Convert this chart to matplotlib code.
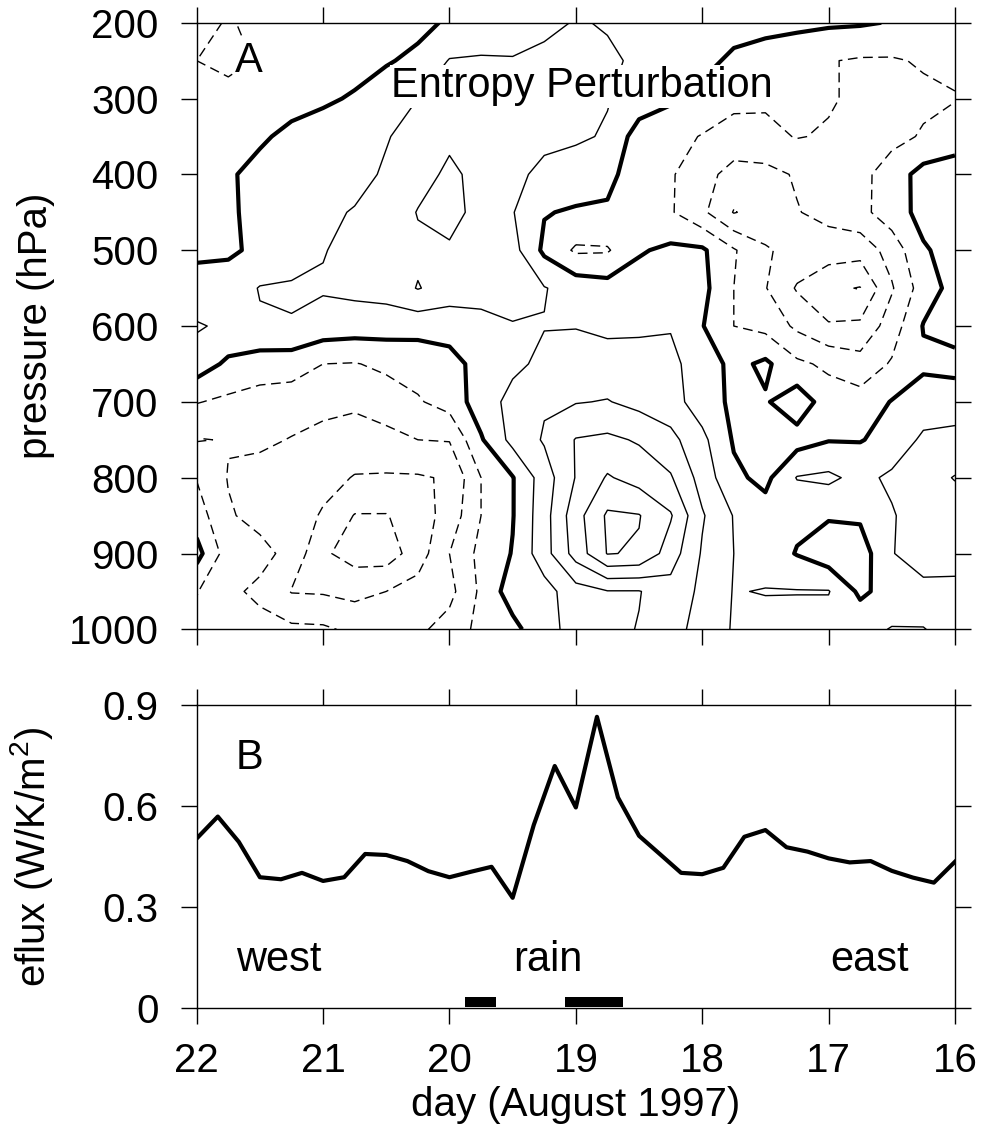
import numpy as np
import matplotlib
matplotlib.use("Agg")
import matplotlib.pyplot as plt

plt.rcParams['font.family'] = ['Liberation Sans', 'DejaVu Sans']
plt.rcParams['mathtext.fontset'] = 'custom'
plt.rcParams['mathtext.rm'] = 'Liberation Sans'
plt.rcParams['mathtext.default'] = 'regular'

# panel A: entropy perturbation on a coarse grid
day_grid = [22.0, 21.75, 21.5, 21.25, 21.0, 20.75, 20.5, 20.25, 20.0, 19.75, 19.5, 19.25,
            19.0, 18.75, 18.5, 18.25, 18.0, 17.75, 17.5, 17.25, 17.0, 16.75, 16.5, 16.25, 16.0]
p_grid = [200, 250, 300, 350, 400, 450, 500, 550, 600, 650, 700, 750, 800, 850, 900, 950, 1000]
entropy = [
    [-0.8, -1.05, -0.85, -0.65, -0.55, -0.45, -0.35, -0.3, 0.15, 0.4, 0.6, 0.8, 1.05, 0.95, 0.7, 0.55, 0.45, 0.4, 0.35, 0.25, 0.15, 0.1, -0.05, -0.3, -0.45],
    [-1.0, -1.3, -0.9, -0.7, -0.5, -0.35, -0.1, 0.25, 1.05, 1.1, 1.05, 1.2, 1.3, 1.1, 0.9, 0.6, 0.3, -0.2, -0.5, -0.7, -0.95, -1.1, -1.1, -0.9, -0.8],
    [-0.6, -0.6, -0.45, -0.3, -0.15, 0.1, 0.6, 1.0, 1.3, 1.4, 1.4, 1.4, 1.3, 1.05, 0.6, 0.15, -0.3, -0.8, -0.85, -0.7, -0.9, -1.2, -1.3, -1.2, -1.05],
    [-0.45, -0.35, -0.12, 0.2, 0.45, 0.7, 0.95, 1.3, 1.8, 1.6, 1.4, 1.2, 1.15, 0.9, -0.5, -0.7, -1.05, -1.3, -1.25, -0.95, -1.1, -1.4, -1.3, -0.9, -0.5],
    [-0.3, -0.1, 0.25, 0.4, 0.55, 0.75, 1.1, 1.6, 2.2, 1.7, 1.2, 0.8, 0.5, 0.2, -0.4, -0.9, -1.6, -2.4, -2.3, -1.9, -1.5, -1.3, -0.5, 0.35, 0.5],
    [-0.25, -0.1, 0.2, 0.55, 0.85, 1.05, 1.3, 2.05, 2.4, 1.6, 1.05, 0.05, -0.1, -0.1, -0.6, -0.9, -1.8, -3.05, -2.6, -2.05, -1.7, -1.3, -0.45, 0.3, 0.5],
    [-0.15, -0.15, 0.2, 0.6, 0.95, 1.3, 1.5, 1.8, 1.85, 1.5, 1.35, -0.2, -1.15, -1.1, -0.1, 0.2, 0.15, -0.9, -1.9, -2.3, -2.5, -2.6, -1.6, -0.1, 0.35],
    [0.3, 0.45, 1.05, 1.1, 1.1, 1.25, 1.4, 2.05, 1.6, 1.5, 1.35, 1.05, 0.6, 0.4, 0.45, 0.5, 0.3, -1.0, -1.95, -3.1, -3.8, -4.05, -2.1, -0.5, 0.35],
    [1.1, 0.8, 0.9, 0.95, 0.6, 0.5, 0.45, 0.35, 0.35, 0.6, 0.95, 0.97, 0.97, 0.8, 0.85, 0.95, 0.05, -1.0, -1.3, -2.2, -2.9, -2.8, -1.5, 0.05, 0.4],
    [0.55, -0.2, -0.5, -0.55, -1.0, -1.05, -0.8, -0.6, -0.3, 0.3, 0.8, 1.2, 1.35, 1.4, 1.35, 1.2, 0.6, -0.3, 0.2, -0.8, -1.2, -1.6, -0.9, -0.15, -0.3],
    [-0.95, -1.2, -1.4, -1.5, -1.6, -1.8, -1.5, -1.1, -0.6, 0.5, 1.3, 1.9, 1.95, 2.05, 1.7, 1.4, 0.5, -0.2, -0.1, 0.6, -0.5, -0.6, 0.05, 0.4, 0.5],
    [-2.05, -1.95, -1.8, -2.05, -2.4, -2.5, -2.3, -2.0, -1.95, -0.1, 1.3, 2.1, 3.05, 3.2, 2.9, 2.3, 1.25, -0.1, -0.15, -0.4, -0.05, -0.05, 0.3, 1.2, 1.3],
    [-1.05, -2.05, -2.4, -2.6, -2.7, -3.05, -3.1, -3.1, -2.9, -1.0, -0.05, 1.5, 3.05, 4.1, 3.6, 3.1, 1.6, 0.2, -0.25, 1.05, 1.2, 0.7, 1.2, 1.6, 2.05],
    [-0.5, -1.9, -2.3, -2.5, -3.1, -4.05, -4.05, -3.5, -2.6, -1.0, -0.05, 1.6, 3.6, 5.15, 5.05, 4.1, 2.1, 0.95, 0.4, 0.2, 0.1, 0.15, 0.9, 1.6, 1.5],
    [0.35, -1.5, -1.7, -2.3, -3.85, -4.4, -4.5, -3.5, -2.0, -0.7, 0.05, 1.6, 3.4, 5.05, 4.9, 3.5, 1.9, 1.0, 0.5, -0.05, -0.6, -0.5, 0.95, 1.5, 1.3],
    [-0.95, -1.8, -2.2, -3.05, -3.1, -3.3, -3.0, -2.6, -2.3, -0.8, 0.5, 0.6, 1.6, 1.95, 1.95, 2.6, 1.8, 0.95, 1.05, 1.05, 1.05, -0.2, 0.4, 0.7, 0.8],
    [-1.3, -1.6, -1.7, -1.8, -1.85, -2.2, -2.3, -2.2, -1.6, -0.7, -0.3, 0.7, 1.3, 1.7, 2.05, 2.3, 1.7, 0.9, 0.6, 0.5, 0.5, 0.7, 1.05, 1.02, 0.8],
]

# panel B: entropy flux, 4-hourly
flux_day = [22.0, 21.833, 21.667, 21.5, 21.333, 21.167, 21.0, 20.833, 20.667, 20.5, 20.333, 20.167,
            20.0, 19.833, 19.667, 19.5, 19.333, 19.167, 19.0, 18.833, 18.667, 18.5, 18.333, 18.167,
            18.0, 17.833, 17.667, 17.5, 17.333, 17.167, 17.0, 16.833, 16.667, 16.5, 16.333, 16.167, 16.0]
eflux = [0.504, 0.569, 0.494, 0.389, 0.383, 0.402, 0.378, 0.389, 0.458, 0.455, 0.437, 0.407,
         0.389, 0.405, 0.420, 0.328, 0.544, 0.719, 0.596, 0.865, 0.626, 0.512, 0.457, 0.402,
         0.398, 0.417, 0.509, 0.529, 0.478, 0.465, 0.445, 0.433, 0.437, 0.408, 0.388, 0.373, 0.435]
rain_start = [19.879, 19.087]
rain_end = [19.628, 18.625]

day_ticks = [22, 21, 20, 19, 18, 17, 16]
p_ticks = [200, 300, 400, 500, 600, 700, 800, 900, 1000]
flux_ticks = [0, 0.3, 0.6, 0.9]
flux_ticklabels = ["0", "0.3", "0.6", "0.9"]

TICK = 29
TXT = 30

fig = plt.figure(figsize=(9.84, 11.43), dpi=100)
ax1 = fig.add_axes([0.1999, 0.4494, 0.7706, 0.5307])
ax2 = fig.add_axes([0.1999, 0.1178, 0.7706, 0.2654])

Z = np.array(entropy)
ax1.contour(day_grid, p_grid, Z, levels=[-4, -3, -2, -1], colors="k",
            linewidths=1.0, linestyles=[(0, (7, 4))])
ax1.contour(day_grid, p_grid, Z, levels=[1, 2, 3, 4, 5], colors="k",
            linewidths=1.0, linestyles="solid")
ax1.contour(day_grid, p_grid, Z, levels=[0], colors="k", linewidths=3.0,
            linestyles="solid")

ax1.set_xlim(22, 16)
ax1.set_ylim(1000, 200)
ax1.set_yticks(p_ticks)
ax1.set_xticks(day_ticks)
ax1.set_ylabel("pressure (hPa)", fontsize=TICK)
ax1.text(21.70, 251, "A", fontsize=TXT, ha="left", va="center",
         bbox=dict(fc="white", ec="none", pad=1))
ax1.text(18.95, 284, "Entropy Perturbation", fontsize=TXT, ha="center", va="center",
         bbox=dict(fc="white", ec="none", pad=1))

ax2.plot(flux_day, eflux, color="k", lw=3.0)
rain_bars = [(e, s - e) for s, e in zip(rain_start, rain_end)]
ax2.broken_barh(rain_bars, (0.005, 0.03), facecolors="k")
ax2.set_xlim(22, 16)
ax2.set_ylim(0, 0.9)
ax2.set_xticks(day_ticks)
ax2.set_xticklabels([str(d) for d in day_ticks])
ax2.set_yticks(flux_ticks)
ax2.set_yticklabels(flux_ticklabels)
ax2.set_ylabel("eflux (W/K/m$^2$)", fontsize=TICK)
ax2.set_xlabel("day (August 1997)", fontsize=TICK)
ax2.text(21.69, 0.743, "B", fontsize=TXT, ha="left", va="center")
ax2.text(21.69, 0.143, "west", fontsize=TXT, ha="left", va="center")
ax2.text(19.50, 0.143, "rain", fontsize=TXT, ha="left", va="center")
ax2.text(16.99, 0.143, "east", fontsize=TXT, ha="left", va="center")

for ax in (ax1, ax2):
    for s in ax.spines.values():
        s.set_linewidth(1.0)
    ax.tick_params(direction="out", length=11.5, width=1.0, labelsize=TICK,
                   top=True, right=True)
    ax.tick_params(axis="y", pad=16)
    ax.tick_params(axis="x", pad=13)
ax1.tick_params(labelbottom=False)
ax1.yaxis.set_label_coords(-0.187, 0.5)
ax2.yaxis.set_label_coords(-0.187, 0.5)

fig.savefig("out.png", dpi=100)
